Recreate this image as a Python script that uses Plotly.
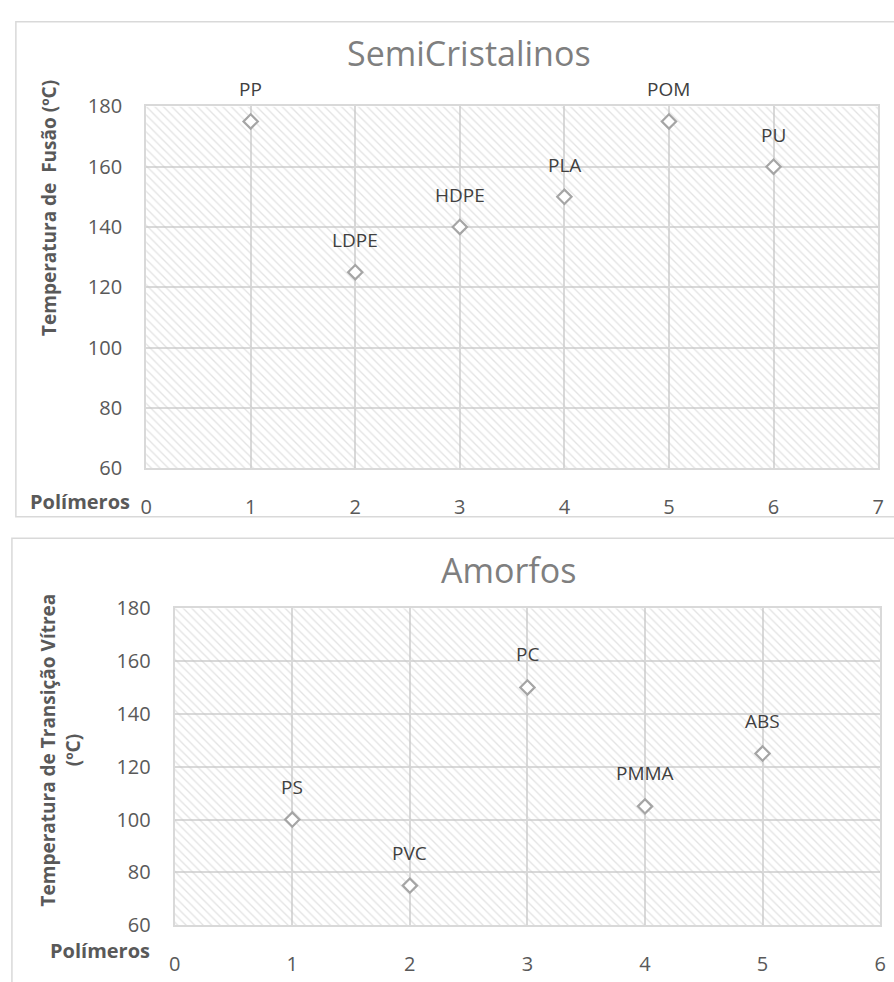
import plotly.graph_objects as go

# ---------------- data ----------------
semi_names = ["PP", "LDPE", "HDPE", "PLA", "POM", "PU"]
semi_x = [1, 2, 3, 4, 5, 6]
semi_tm = [175, 125, 140, 150, 175, 160]

amorf_names = ["PS", "PVC", "PC", "PMMA", "ABS"]
amorf_x = [1, 2, 3, 4, 5]
amorf_tg = [100, 75, 150, 105, 125]

top_title = "SemiCristalinos"
bottom_title = "Amorfos"
top_ytitle = "Temperatura de  Fusão (ºC)"
bottom_ytitle = "Temperatura de Transição Vítrea<br>(ºC)"
x_label = "Polímeros"

top_xrange = [0, 7]
bottom_xrange = [0, 6]
y_range = [60, 180]
y_step = 20

# ---------------- styling helpers ----------------
W, H = 894, 982
FONT = "Open Sans"
GRID = "#d9d9d9"


def px(x):
    return x / W


def py(y):
    return 1 - y / H


fig = go.Figure()


def hatch(xr, yr, xa, ya):
    fig.add_trace(go.Scatter(
        x=[xr[0], xr[1], xr[1], xr[0], xr[0]],
        y=[yr[0], yr[0], yr[1], yr[1], yr[0]],
        mode="lines", line=dict(width=0), fill="toself",
        fillcolor="rgba(0,0,0,0)",
        fillpattern=dict(shape="\\", fgcolor="#c8c8c8", bgcolor="rgba(0,0,0,0)",
                         size=6, solidity=0.22),
        hoverinfo="skip", showlegend=False, xaxis=xa, yaxis=ya))


def points(xs, ys, xa, ya):
    fig.add_trace(go.Scatter(
        x=xs, y=ys, mode="markers",
        marker=dict(symbol="diamond", size=11, color="white",
                    line=dict(color="#a5a5a5", width=2.2)),
        cliponaxis=False, showlegend=False, xaxis=xa, yaxis=ya))


hatch(top_xrange, y_range, "x", "y")
points(semi_x, semi_tm, "x", "y")
hatch(bottom_xrange, y_range, "x2", "y2")
points(amorf_x, amorf_tg, "x2", "y2")

annotations = []
for n, xv, yv in zip(semi_names, semi_x, semi_tm):
    annotations.append(dict(x=xv, y=yv, xref="x", yref="y", text=n, showarrow=False,
                            yshift=32, yanchor="middle",
                            font=dict(family=FONT, size=19, color="#404040")))
for n, xv, yv in zip(amorf_names, amorf_x, amorf_tg):
    annotations.append(dict(x=xv, y=yv, xref="x2", yref="y2", text=n, showarrow=False,
                            yshift=33, yanchor="middle",
                            font=dict(family=FONT, size=19, color="#404040")))

# chart titles
annotations.append(dict(x=px(469), y=py(40), xref="paper", yref="paper", text=top_title,
                        showarrow=False, xanchor="center", yanchor="middle",
                        font=dict(family=FONT, size=34, color="#7f7f7f")))
annotations.append(dict(x=px(509), y=py(572), xref="paper", yref="paper", text=bottom_title,
                        showarrow=False, xanchor="center", yanchor="middle",
                        font=dict(family=FONT, size=34, color="#7f7f7f")))
# x-axis labels
annotations.append(dict(x=px(128), y=py(501), xref="paper", yref="paper",
                        text="<b>" + x_label + "</b>", showarrow=False,
                        xanchor="right", yanchor="middle",
                        font=dict(family=FONT, size=20, color="#595959")))
annotations.append(dict(x=px(148), y=py(963), xref="paper", yref="paper",
                        text="<b>" + x_label + "</b>", showarrow=False,
                        xanchor="right", yanchor="middle",
                        font=dict(family=FONT, size=20, color="#595959")))
# y-axis titles
annotations.append(dict(x=px(43), y=py(199), xref="paper", yref="paper",
                        text="<b>" + top_ytitle + "</b>", showarrow=False, textangle=-90,
                        xanchor="center", yanchor="middle",
                        font=dict(family=FONT, size=19, color="#595959")))
annotations.append(dict(x=px(55), y=py(757), xref="paper", yref="paper",
                        text="<b>" + bottom_ytitle + "</b>", showarrow=False, textangle=-90,
                        xanchor="center", yanchor="middle", align="center",
                        font=dict(family=FONT, size=19, color="#595959")))

tickfont = dict(family=FONT, size=20, color="#595959")


def xax(rng, dom, anchor):
    return dict(range=rng, domain=dom, anchor=anchor, dtick=1, tick0=0,
                showgrid=True, gridcolor=GRID, gridwidth=2,
                showline=True, linecolor=GRID, linewidth=2, mirror=True,
                zeroline=False, ticks="outside", ticklen=20, tickcolor="rgba(0,0,0,0)",
                tickfont=tickfont, fixedrange=True)


def yax(rng, dom, anchor):
    return dict(range=rng, domain=dom, anchor=anchor, dtick=y_step, tick0=rng[0],
                showgrid=True, gridcolor=GRID, gridwidth=2,
                showline=True, linecolor=GRID, linewidth=2, mirror=True,
                zeroline=False, ticks="outside", ticklen=18, tickcolor="rgba(0,0,0,0)",
                tickfont=tickfont, fixedrange=True)


shapes = [
    dict(type="rect", xref="paper", yref="paper", x0=px(10), x1=1.05, y0=py(8), y1=py(517),
         line=dict(color=GRID, width=1.5), fillcolor="rgba(0,0,0,0)", layer="below"),
    dict(type="rect", xref="paper", yref="paper", x0=px(6), x1=1.05, y0=py(539), y1=-0.05,
         line=dict(color=GRID, width=1.5), fillcolor="rgba(0,0,0,0)", layer="below"),
]

fig.update_layout(
    width=W, height=H, margin=dict(l=0, r=0, t=0, b=0),
    paper_bgcolor="white", plot_bgcolor="white", showlegend=False,
    xaxis=xax(top_xrange, [px(142), px(884)], "y"),
    yaxis=yax(y_range, [py(467), py(95)], "x"),
    xaxis2=xax(bottom_xrange, [px(171), px(886)], "y2"),
    yaxis2=yax(y_range, [py(937), py(611)], "x2"),
    annotations=annotations, shapes=shapes,
)

fig.write_html(
    "out.html",
    config={"displayModeBar": False},
    post_script="document.body.style.margin='0';document.body.style.overflow='hidden';",
)
